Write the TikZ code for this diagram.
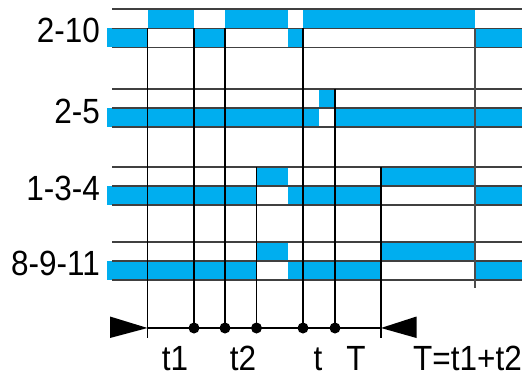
\documentclass[tikz,border=0pt]{standalone}
\usepackage{fontspec}
\setmainfont{Liberation Sans}
\definecolor{sig}{HTML}{00AEEF}
\newcommand{\nlab}[1]{\scalebox{0.9}[1]{#1}}
\begin{document}
\begin{tikzpicture}[x=1pt,y=-1pt,
  hl/.style={line width=1.1pt, black!75},
  vl/.style={line width=1.3pt, black},
  band/.style={fill=sig, draw=none},
  lbl/.style={inner sep=0pt, font=\fontsize{35}{35}\selectfont},
  tdot/.style={circle, fill=black, inner sep=0pt, minimum size=11pt},
  tri/.style={fill=black, draw=none}]
\useasboundingbox[fill=white] (0,0) rectangle (526,377);

% ---- blue signal bands ----
% row 1 : 2-10
\fill[band] (147.5,9) rectangle (194,28.3);
\fill[band] (225,9) rectangle (287.5,28.3);
\fill[band] (303,9) rectangle (475,28.3);
\fill[band] (107,28.3) rectangle (147.5,47.5);
\fill[band] (194,28.3) rectangle (225,47.5);
\fill[band] (287.5,28.3) rectangle (303,47.5);
\fill[band] (475,28.3) rectangle (522,47.5);
% row 2 : 2-5
\fill[band] (107,108) rectangle (319,127);
\fill[band] (319,89) rectangle (335,108);
\fill[band] (335,108) rectangle (522,127);
% rows 3 and 4 : 1-3-4 and 8-9-11
\foreach \t/\m/\b in {167/186/205, 242/261/280}{
  \fill[band] (107,\m) rectangle (256.5,\b);
  \fill[band] (256.5,\t) rectangle (287.5,\m);
  \fill[band] (287.5,\m) rectangle (381,\b);
  \fill[band] (381,\t) rectangle (475,\m);
  \fill[band] (475,\m) rectangle (522,\b);
}

% ---- horizontal level lines ----
\foreach \y in {9,28.3,47.5, 89,108,127, 167,186,205, 242,261,280}{
  \draw[hl] (112,\y) -- (522,\y);
}

% ---- row labels ----
\node[lbl, anchor=base east] (l1) at (100,43) {\nlab{2-10}};
\node[lbl, anchor=base east] (l2) at (100,123) {\nlab{2-5}};
\node[lbl, anchor=base east] (l3) at (100,200) {\nlab{1-3-4}};
\node[lbl, anchor=base east] (l4) at (100,275) {\nlab{8-9-11}};

% ---- time axis ----
\coordinate (ax0) at (147.5,328);
\coordinate (ax1) at (381,328);
\node[tdot] (d1) at (194,328) {};
\node[tdot] (d2) at (225,328) {};
\node[tdot] (d3) at (256.5,328) {};
\node[tdot] (d4) at (303,328) {};
\node[tdot] (d5) at (335,328) {};
\draw[vl] (ax0) -- (ax1);

% vertical event lines
\coordinate (s0) at (147.5,28.3);
\coordinate (e0) at (147.5,338);
\coordinate (s1) at (194,28.3);
\coordinate (s2) at (225,28.3);
\coordinate (s3) at (256.5,167);
\coordinate (s4) at (303,28.3);
\coordinate (s5) at (335,89);
\coordinate (s6) at (381,167);
\coordinate (e6) at (381,338);
\coordinate (s7) at (475,28.3);
\coordinate (e7) at (475,288);
\draw[vl] (s0) -- (e0);
\draw[vl] (s1) -- (d1.center);
\draw[vl] (s2) -- (d2.center);
\draw[vl] (s3) -- (d3.center);
\draw[vl] (s4) -- (d4.center);
\draw[vl] (s5) -- (d5.center);
\draw[vl] (s6) -- (e6);
\draw[vl, black!70] (s7) -- (e7);

% arrow heads of the axis
\fill[tri] (110,316.5) -- (ax0) -- (110,338) -- cycle;
\fill[tri] (416.5,316.5) -- (ax1) -- (416.5,338) -- cycle;

% ---- axis labels ----
\node[lbl, anchor=base] (t1) at (175,370) {\nlab{t1}};
\node[lbl, anchor=base] (t2) at (243,370) {\nlab{t2}};
\node[lbl, anchor=base] (tt) at (318,370) {\nlab{t}};
\node[lbl, anchor=base] (TT) at (356,370) {\nlab{T}};
\node[lbl, anchor=base east] (Teq) at (522,370) {\nlab{T=t1+t2}};
\end{tikzpicture}
\end{document}
